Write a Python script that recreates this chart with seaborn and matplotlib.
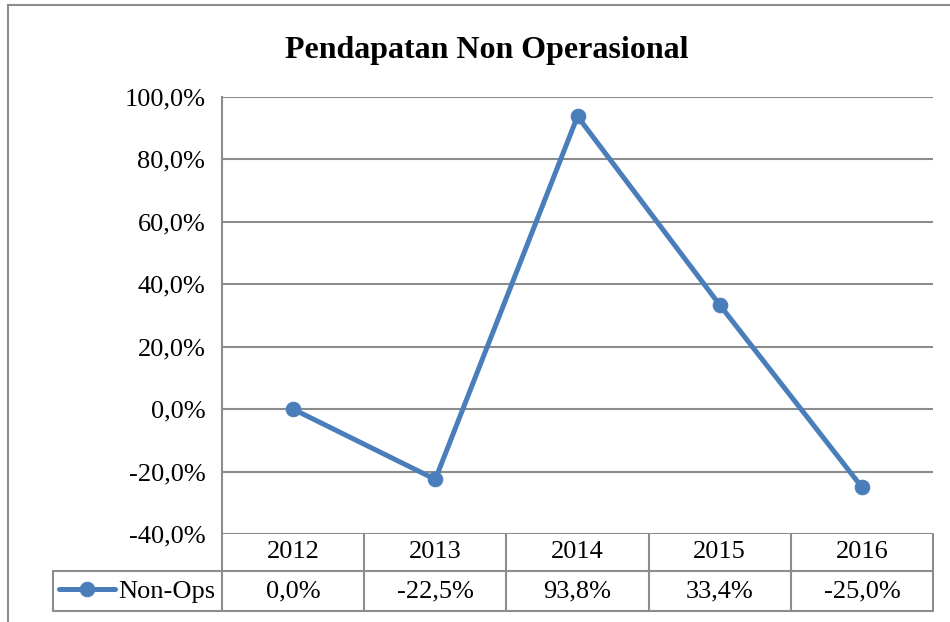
# Line chart of non operational income growth with an Excel-style data table
import matplotlib
matplotlib.use("Agg")
import matplotlib.pyplot as plt
import seaborn as sns
import pandas as pd
from matplotlib.ticker import FuncFormatter, MultipleLocator
from matplotlib.patches import Rectangle

# Data
years = ['2012', '2013', '2014', '2015', '2016']
non_ops = [0.0, -22.5, 93.8, 33.4, -25.0]
series_name = 'Non-Ops'
title = 'Pendapatan Non Operasional'

blue = '#4A7EBB'
grid_gray = '#8C8C8C'


def pct(v):
    return f'{v:.1f}%'.replace('.', ',')


sns.set_style('white')
plt.rcParams['font.family'] = ['Liberation Serif', 'DejaVu Serif']
plt.rcParams['text.color'] = 'black'

df = pd.DataFrame({'year': years, 'value': non_ops})

fig = plt.figure(figsize=(9.5, 6.22), dpi=100)
ax = fig.add_axes([222 / 950, 88 / 622, 711 / 950, 437 / 622])

sns.lineplot(data=df, x='year', y='value', ax=ax, color=blue, linewidth=3.6,
             marker='o', markersize=10.5, markeredgecolor=blue, label=series_name,
             sort=False)

ax.set_xlim(-0.5, len(years) - 0.5)
ax.set_ylim(-40, 100)
ax.yaxis.set_major_locator(MultipleLocator(20))
ax.yaxis.set_major_formatter(FuncFormatter(lambda v, p: pct(v)))
ax.grid(axis='y', color=grid_gray, linewidth=1.5)
ax.set_axisbelow(True)
ax.tick_params(axis='y', length=0, pad=12, labelsize=19, labelcolor='black')
ax.set_xticks([])
ax.set_xlabel('')
ax.set_ylabel('')
for side in ['top', 'right', 'bottom']:
    ax.spines[side].set_visible(False)
ax.spines['left'].set_color(grid_gray)
ax.spines['left'].set_linewidth(1.5)

# Data table below the plot area (axes coordinates)
n = len(years)
label_w = 169 / 711
row1 = -37 / 437
row2 = -77 / 437
line_kw = dict(color=grid_gray, linewidth=1.5, transform=ax.transAxes, clip_on=False)
ax.plot([-label_w, 1], [row1, row1], **line_kw)
ax.plot([-label_w, 1], [row2, row2], **line_kw)
ax.plot([-label_w, -label_w], [row1, row2], **line_kw)
for i in range(n + 1):
    ax.plot([i / n, i / n], [0, row2], **line_kw)
for i, (yr, v) in enumerate(zip(years, non_ops)):
    xc = (i + 0.5) / n
    ax.text(xc, row1 / 2, yr, transform=ax.transAxes, ha='center', va='center',
            fontsize=19, color='black')
    ax.text(xc, (row1 + row2) / 2, pct(v), transform=ax.transAxes, ha='center',
            va='center', fontsize=19, color='black')

# Legend key sits inside the row label cell
ax.legend(loc='center', bbox_to_anchor=(-label_w / 2, (row1 + row2) / 2), frameon=False,
          fontsize=19, handlelength=2.1, handletextpad=0.15, borderpad=0,
          borderaxespad=0)

ax.set_title(title, fontsize=23, fontweight='bold', x=0.372, y=1.0, pad=28,
             color='black')

# Outer chart border (cropped on the right and bottom)
fig.patches.append(Rectangle((8 / 950, -0.5), 2, 1.5 - 5 / 622, transform=fig.transFigure,
                             fill=False, edgecolor=grid_gray, linewidth=1.5))

fig.savefig('out.png', dpi=100)
